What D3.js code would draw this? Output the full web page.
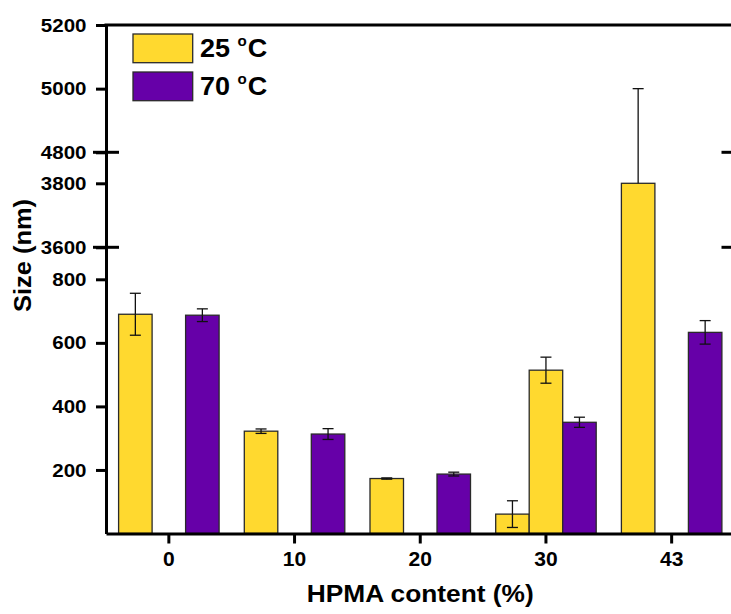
<!DOCTYPE html>
<html>
<head>
<meta charset="utf-8">
<script src="https://cdn.jsdelivr.net/npm/d3@7/dist/d3.min.js"></script>
<style>
  html, body { margin: 0; padding: 0; background: #fff; }
  svg { display: block; }
  text { font-family: Arial, "Liberation Sans", sans-serif; font-weight: bold; fill: #000; }
</style>
</head>
<body>
<svg id="chart" width="731" height="614"></svg>
<script>
// ---------- data ----------
const categories = ["0", "10", "20", "30", "43"];
const size25 = [690, 322, 173, 61, 3800];
const err25 = [66, 7, 2, 42, 1200];
const size25b = [null, null, null, 514, null];   // extra 25 °C bar at 30 %
const err25b = [null, null, null, 41, null];
const size70 = [687, 313, 187, 350, 633];
const err70 = [20, 17, 6, 16, 37];
const yTickValues = [200, 400, 600, 800, 3600, 3800, 4800, 5000, 5200];
const breakTicks = [3600, 4800];
const legendLabels = ["25 ", "70 "];
const colors = { c25: "#FFD92F", c70: "#6600A8" };

// ---------- layout ----------
const svg = d3.select("#chart");
const L = 106, R = 734.5, T = 25, B = 533.5;
const SX = 1.08; // horizontal text stretch seen in the original

const x = d3.scaleBand().domain(categories).range([L, R]).paddingInner(0).paddingOuter(0);
const sub = d3.scaleBand().domain(["a", "m", "b"]).range([0, x.bandwidth()]).paddingInner(0).paddingOuter(0.376);

// broken y axis: piecewise linear scale with 3 segments
const y = d3.scaleLinear()
  .domain([0, 800, 3600, 3800, 4800, 5200])
  .range([B, 279.3, 247.3, 183.3, 152.3, T]);
const segments = [[0, 800], [3600, 3800], [4800, 5200]];
const segOf = v => segments.findIndex(s => v >= s[0] && v <= s[1]);

// ---------- bars ----------
const series = [
  { key: "a", vals: size25, errs: err25, color: colors.c25 },
  { key: "m", vals: size25b, errs: err25b, color: colors.c25 },
  { key: "b", vals: size70, errs: err70, color: colors.c70 }
];

const gBars = svg.append("g");
series.forEach(s => {
  categories.forEach((c, i) => {
    const v = s.vals[i];
    if (v == null) return;
    const x0 = x(c) + sub(s.key);
    const w = sub.bandwidth();
    gBars.append("rect")
      .attr("x", x0).attr("y", y(v))
      .attr("width", w).attr("height", y(0) - y(v))
      .attr("fill", s.color).attr("stroke", "#2a2a2a").attr("stroke-width", 1.3);
  });
});

// error bars
const gErr = svg.append("g").attr("stroke", "#111").attr("stroke-width", 1.3).attr("fill", "none");
series.forEach(s => {
  categories.forEach((c, i) => {
    const v = s.vals[i], e = s.errs[i];
    if (v == null || e == null) return;
    const cx = x(c) + sub(s.key) + sub.bandwidth() / 2;
    const hi = v + e, lo = v - e;
    const cap = 5.5;
    gErr.append("line").attr("x1", cx).attr("x2", cx).attr("y1", y(v)).attr("y2", y(hi));
    gErr.append("line").attr("x1", cx - cap).attr("x2", cx + cap).attr("y1", y(hi)).attr("y2", y(hi));
    if (segOf(lo) !== -1) {
      gErr.append("line").attr("x1", cx).attr("x2", cx).attr("y1", y(v)).attr("y2", y(lo));
      gErr.append("line").attr("x1", cx - cap).attr("x2", cx + cap).attr("y1", y(lo)).attr("y2", y(lo));
    }
  });
});

// ---------- axes ----------
const yAxis = d3.axisLeft(y).tickValues(yTickValues).tickFormat(d3.format("d"))
  .tickSize(10).tickSizeOuter(0).tickPadding(9);
const gy = svg.append("g").attr("transform", `translate(${L},0)`).call(yAxis);
gy.select(".domain").attr("stroke", "#000").attr("stroke-width", 3);
gy.selectAll(".tick line").attr("stroke", "#000").attr("stroke-width", 3);
gy.selectAll(".tick text").style("font-size", "19px").attr("fill", "#000")
  .attr("x", 0).attr("transform", `translate(-19.5,0) scale(${SX},1)`);

const xAxis = d3.axisBottom(x).tickSize(10).tickSizeOuter(0).tickPadding(9);
const gx = svg.append("g").attr("transform", `translate(0,${B})`).call(xAxis);
gx.select(".domain").attr("stroke", "#000").attr("stroke-width", 3);
gx.selectAll(".tick line").attr("stroke", "#000").attr("stroke-width", 3);
gx.selectAll(".tick text").style("font-size", "19.5px").attr("fill", "#000")
  .attr("transform", `scale(${SX},1)`);

// top frame line
svg.append("line").attr("x1", L - 1.5).attr("x2", R).attr("y1", T).attr("y2", T)
  .attr("stroke", "#000").attr("stroke-width", 3);

// break marks crossing left and right axes
breakTicks.forEach(v => {
  [L, R].forEach(ax => {
    svg.append("line").attr("x1", ax - 13).attr("x2", ax + 13)
      .attr("y1", y(v)).attr("y2", y(v))
      .attr("stroke", "#000").attr("stroke-width", 3);
  });
});

// ---------- titles ----------
svg.append("text").attr("transform", `translate(${(L + R) / 2},602) scale(1.065,1)`)
  .attr("text-anchor", "middle").style("font-size", "24.7px").text("HPMA content (%)");
svg.append("text").attr("transform", "translate(31,255.5) rotate(-90) scale(1.06,1)")
  .attr("text-anchor", "middle").style("font-size", "24px").text("Size (nm)");

// ---------- legend ----------
const legend = svg.append("g");
[colors.c25, colors.c70].forEach((col, i) => {
  const yTop = 34 + i * 38;
  legend.append("rect").attr("x", 133).attr("y", yTop).attr("width", 59.7).attr("height", 28.7)
    .attr("fill", col).attr("stroke", "#2a2a2a").attr("stroke-width", 1.3);
  const t = legend.append("text").attr("transform", `translate(200,${yTop + 23.3}) scale(${SX},1)`)
    .style("font-size", "25px");
  t.append("tspan").text(legendLabels[i]);
  t.append("tspan").attr("dy", -11).style("font-size", "14px").text("o");
  t.append("tspan").attr("dy", 11).attr("dx", 1).text("C");
});
</script>
</body>
</html>
